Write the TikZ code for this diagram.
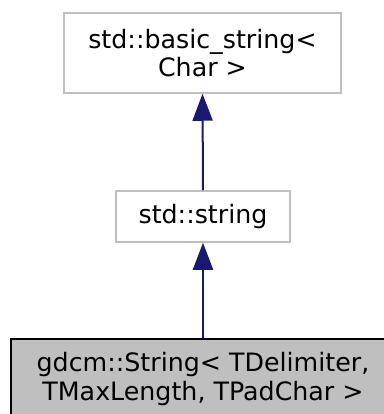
\documentclass[tikz,border=0pt]{standalone}
\usepackage{fontspec}
\setmainfont{DejaVu Sans}
\usetikzlibrary{arrows.meta}
\definecolor{boxgray}{HTML}{BFBFBF}
\definecolor{edgeblue}{HTML}{191970}
\begin{document}
\begin{tikzpicture}[x=1bp,y=1bp,
  cls/.style={draw=boxgray, line width=1.5bp, fill=white, inner sep=0pt, align=center,
    font=\fontsize{25.3bp}{28.5bp}\selectfont},
  cur/.style={cls, draw=black, fill=boxgray},
  inh/.style={draw=edgeblue, line width=2bp, -{Triangle[width=20bp,length=27bp]}, fill=edgeblue}]
\useasboundingbox (0,0) rectangle (384,414);
\begin{scope}
\clip (0,0) rectangle (384,414);
\node[cls, minimum width=277bp, minimum height=80bp] (base) at (202.5,361) {std::basic\_string<\\Char >};
\node[cls, minimum width=174bp, minimum height=51bp] (str) at (203,197.5) {std::string};
\node[cur, minimum width=384bp, minimum height=80bp] (gd) at (203,35) {gdcm::String< TDelimiter,\\TMaxLength, TPadChar >};
\draw[inh] (str.north) -- (base.south);
\draw[inh] (gd.north) -- (str.south);
\end{scope}
\end{tikzpicture}
\end{document}
